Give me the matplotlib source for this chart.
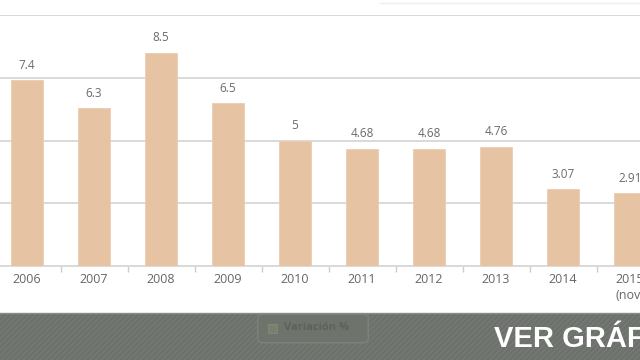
import matplotlib
matplotlib.use("Agg")
import matplotlib.pyplot as plt
from matplotlib.patches import Rectangle, FancyBboxPatch

years = ["2006", "2007", "2008", "2009", "2010", "2011", "2012", "2013", "2014", "2015\n(nov)"]
values = [7.4, 6.3, 8.5, 6.5, 5, 4.68, 4.68, 4.76, 3.07, 2.91]
value_labels = ["7.4", "6.3", "8.5", "6.5", "5", "4.68", "4.68", "4.76", "3.07", "2.91"]
yticks = [0, 2.5, 5, 7.5, 10]

plt.rcParams['font.family'] = ['Open Sans', 'DejaVu Sans']

fig = plt.figure(figsize=(6.4, 3.6), dpi=100)
fig.patch.set_facecolor("white")

# main axes: spans full width, baseline at y=266px, top gridline at y=15px
ax = fig.add_axes([0, (360 - 266) / 360, 1, (266 - 15) / 360])
ax.set_facecolor("white")
x = list(range(len(years)))
ax.bar(x, values, width=0.48, color="#e6c3a2", edgecolor="#ebcdb0", linewidth=0.6, zorder=3)
for xi, v, lab in zip(x, values, value_labels):
    ax.annotate(lab, (xi, v), xytext=(0, 6), textcoords="offset points",
                ha="center", va="bottom", fontsize=8.5, color="#6a6a6a")
ax.set_yticks(yticks)
ax.yaxis.grid(True, color="#d9d9d9", linewidth=1.4, zorder=0)
ax.tick_params(axis="y", left=False, labelleft=False)
for s in ["left", "right", "top"]:
    ax.spines[s].set_visible(False)
ax.spines["bottom"].set_color("#d9d9d9")
ax.spines["bottom"].set_linewidth(1.4)
ax.set_xticks(x)
ax.set_xticklabels(years, fontsize=9, color="#666666", linespacing=1.3)
ax.tick_params(axis="x", length=0, pad=5)
# boundary ticks between categories
ax.set_xticks([i + 0.5 for i in range(-1, len(years))], minor=True)
ax.tick_params(axis="x", which="minor", length=4, color="#cccccc", width=1)
ax.set_ylim(0, 10)
ax.set_xlim(-27 / 67, -27 / 67 + 640 / 67)

# faint top line
fig.add_artist(plt.Line2D([380 / 640, 1], [357 / 360, 357 / 360], color="#eeeeee", lw=1))

# bottom dark band
band = Rectangle((0, 0), 1, 47 / 360, transform=fig.transFigure, facecolor="#6c716b",
                 edgecolor="#757a74", hatch="//////", linewidth=0, zorder=5)
fig.add_artist(band)
fig.add_artist(plt.Line2D([0, 1], [47 / 360, 47 / 360], color="#8a8e88", lw=1, zorder=6))

# legend button
btn = FancyBboxPatch((259 / 640, 18 / 360), 108 / 640, 27 / 360, transform=fig.transFigure,
                     boxstyle="round,pad=0.002,rounding_size=0.01", facecolor="#6e736c",
                     edgecolor="#7d827b", linewidth=1, zorder=7)
fig.add_artist(btn)
fig.add_artist(Rectangle((268 / 640, 27 / 360), 9 / 640, 9 / 360, transform=fig.transFigure,
                         facecolor="#7c7f6e", edgecolor="#858a80", lw=0.6, zorder=8))
fig.text(284 / 640, 32 / 360, "Variación %", fontsize=8, color="#5c615a", ha="left",
         va="center", zorder=8, fontweight="bold")

fig.text(494 / 640, 21 / 360, "VER GRÁFICO", fontsize=21, color="white", ha="left",
         va="center", fontweight="bold",
         family=["Liberation Sans", "DejaVu Sans"], zorder=8)

fig.savefig("out.png", dpi=100)
